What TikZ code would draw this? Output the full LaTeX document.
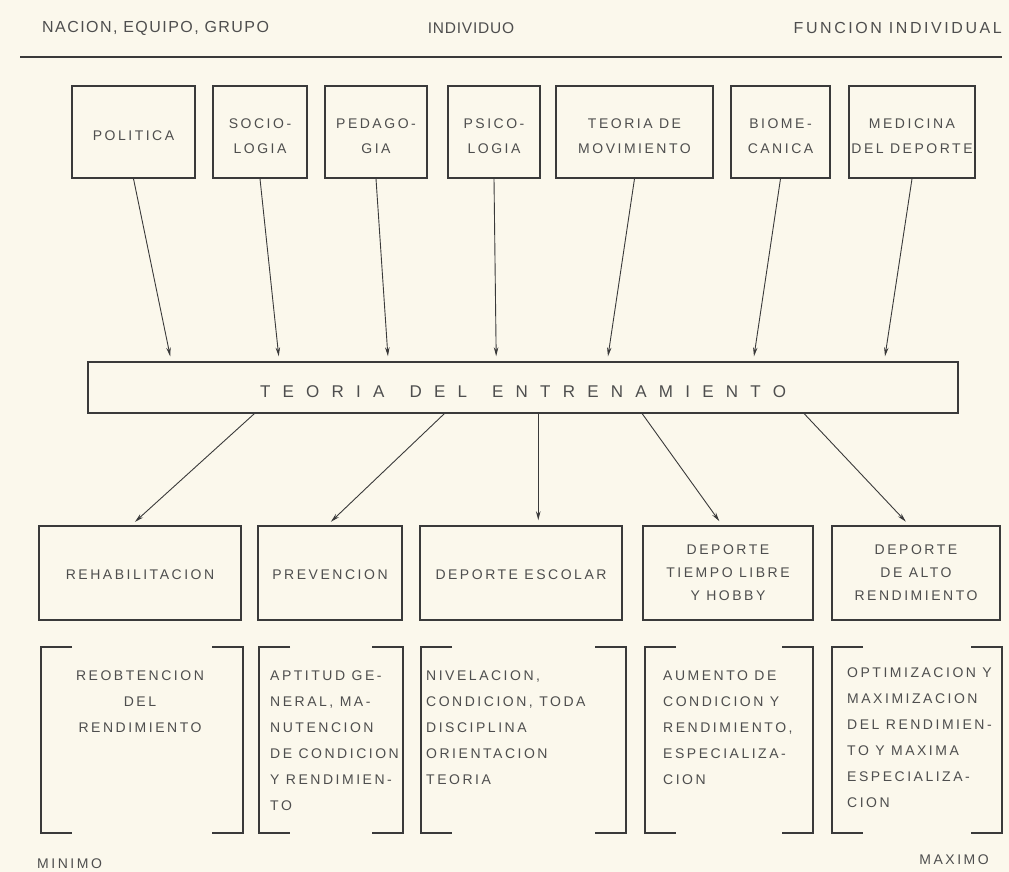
\documentclass[tikz,border=0pt]{standalone}
\usepackage{fontspec}
\setmainfont{Liberation Sans}
\newfontfamily\trk[LetterSpace=18]{Liberation Sans}
\newfontfamily\hdr[LetterSpace=9]{Liberation Sans}
\newfontfamily\hdrw[LetterSpace=16]{Liberation Sans}
\newfontfamily\hdrn[LetterSpace=5]{Liberation Sans}
\newfontfamily\widefont[LetterSpace=72]{Liberation Sans}
\usetikzlibrary{arrows.meta}
\definecolor{bg}{HTML}{FBF8EC}
\definecolor{ink}{HTML}{3A3A3A}
\definecolor{txt}{HTML}{4E4E4E}
\newcommand{\dn}{\rule{0pt}{18pt}}
\begin{document}
\begin{tikzpicture}[x=1pt,y=-1pt,
  box/.style={draw=ink, line width=1.5pt, inner sep=0pt, align=center, text=txt, font=\trk\fontsize{14}{25}\selectfont},
  arr/.style={draw=ink, line width=0.9pt, -{Stealth[length=9pt,width=4.5pt]}, shorten >=5pt},
  brk/.style={draw=ink, line width=1.8pt},
  btxt/.style={inner sep=0pt, align=left, anchor=north west, text=txt, font=\trk\fontsize{14}{26}\selectfont},
  hd/.style={inner sep=0pt, text=txt, font=\hdr\fontsize{16}{18}\selectfont},
  mm/.style={inner sep=0pt, text=txt, font=\trk\fontsize{14}{16}\selectfont}]
\fill[bg] (0,0) rectangle (1009,872);
\useasboundingbox (0,0) rectangle (1009,872);

% header
\node[hd, anchor=west] (h1) at (42,28) {NACION, EQUIPO, GRUPO};
\node[hd, font=\hdrn\fontsize{15.5}{18}\selectfont] (h2) at (471,28) {INDIVIDUO};
\node[hd, anchor=east, font=\hdrw\fontsize{16}{18}\selectfont] (h3) at (1002,28) {FUNCION INDIVIDUAL};
\draw[ink, line width=2.4pt] (20,57) -- (1002,57);

% top boxes (y 86-178)
\node[box, minimum width=123pt, minimum height=92pt] (pol) at (133.5,132) {\dn POLITICA};
\node[box, minimum width=94pt, minimum height=92pt] (soc) at (260,132) {\dn SOCIO-\\LOGIA};
\node[box, minimum width=102pt, minimum height=92pt] (ped) at (376,132) {\dn PEDAGO-\\GIA};
\node[box, minimum width=92pt, minimum height=92pt] (psi) at (494,132) {\dn PSICO-\\LOGIA};
\node[box, minimum width=157pt, minimum height=92pt] (mov) at (634.5,132) {\dn TEORIA DE\\MOVIMIENTO};
\node[box, minimum width=99pt, minimum height=92pt] (bio) at (780.5,132) {\dn BIOME-\\CANICA};
\node[box, minimum width=126pt, minimum height=92pt] (med) at (912,132) {\dn MEDICINA\\DEL DEPORTE};

% central bar (88-958, 362-413)
\node[box, minimum width=870pt, minimum height=51pt, font=\widefont\fontsize{17}{18}\selectfont] (bar) at (523,387.5) {\rule{0pt}{20pt}TEORIA\hspace{25pt}DEL\hspace{25pt}ENTRENAMIENTO};

% targets on bar top
\path (bar.north west) ++(84,0) coordinate (t1);
\path (bar.north west) ++(192,0) coordinate (t2);
\path (bar.north west) ++(301,0) coordinate (t3);
\path (bar.north west) ++(409,0) coordinate (t4);
\path (bar.north west) ++(520,0) coordinate (t5);
\path (bar.north west) ++(666,0) coordinate (t6);
\path (bar.north west) ++(797,0) coordinate (t7);
\draw[arr] (pol.south) -- (t1);
\draw[arr] (soc.south) -- (t2);
\draw[arr] (ped.south) -- (t3);
\draw[arr] (psi.south) -- (t4);
\draw[arr] (mov.south) -- (t5);
\draw[arr] (bio.south) -- (t6);
\draw[arr] (med.south) -- (t7);

% bottom boxes (y 526-620)
\node[box, minimum width=202pt, minimum height=94pt] (reh) at (140,573) {\rule{0pt}{14pt}REHABILITACION};
\node[box, minimum width=144pt, minimum height=94pt] (pre) at (330,573) {\rule{0pt}{14pt}PREVENCION};
\node[box, minimum width=202pt, minimum height=94pt] (esc) at (521,573) {\rule{0pt}{14pt}DEPORTE ESCOLAR};
\node[box, minimum width=170pt, minimum height=94pt, font=\trk\fontsize{14}{23}\selectfont] (tl) at (728,573) {DEPORTE\\TIEMPO LIBRE\\Y HOBBY};
\node[box, minimum width=168pt, minimum height=94pt, font=\trk\fontsize{14}{23}\selectfont] (alto) at (916,573) {DEPORTE\\DE ALTO\\RENDIMIENTO};

% sources on bar bottom and targets on box tops
\path (bar.south west) ++(167,0) coordinate (s1);
\path (bar.south west) ++(357,0) coordinate (s2);
\path (bar.south west) ++(451,0) coordinate (s3);
\path (bar.south west) ++(555,0) coordinate (s4);
\path (bar.south west) ++(717,0) coordinate (s5);
\path (reh.north west) ++(93,0) coordinate (e1);
\path (pre.north west) ++(70,0) coordinate (e2);
\path (esc.north west) ++(119,0) coordinate (e3);
\path (tl.north west) ++(80,0) coordinate (e4);
\path (alto.north west) ++(78,0) coordinate (e5);
\draw[arr] (s1) -- (e1);
\draw[arr] (s2) -- (e2);
\draw[arr] (s3) -- (e3);
\draw[arr] (s4) -- (e4);
\draw[arr] (s5) -- (e5);

% brackets (y 647-833)
\foreach \l/\r in {41/243, 259/403, 421/626, 645/813, 832/1002}{
  \draw[brk] (\l+31,647) -- (\l,647) -- (\l,833) -- (\l+31,833);
  \draw[brk] (\r-31,647) -- (\r,647) -- (\r,833) -- (\r-31,833);
}

% bracket texts
\node[btxt, anchor=north, align=center] (k1) at (140,671) {REOBTENCION\\DEL\\RENDIMIENTO};
\node[btxt] (k2) at (270,671) {APTITUD GE-\\NERAL, MA-\\NUTENCION\\DE CONDICION\\Y RENDIMIEN-\\TO};
\node[btxt] (k3) at (426,671) {NIVELACION,\\CONDICION, TODA\\DISCIPLINA\\ORIENTACION\\TEORIA};
\node[btxt] (k4) at (663,671) {AUMENTO DE\\CONDICION Y\\RENDIMIENTO,\\ESPECIALIZA-\\CION};
\node[btxt] (k5) at (847,668) {OPTIMIZACION Y\\MAXIMIZACION\\DEL RENDIMIEN-\\TO Y MAXIMA\\ESPECIALIZA-\\CION};

% scale labels
\node[mm, anchor=west] (mn) at (37,864) {MINIMO};
\node[mm, anchor=east] (mx) at (989,860) {MAXIMO};
\end{tikzpicture}
\end{document}
